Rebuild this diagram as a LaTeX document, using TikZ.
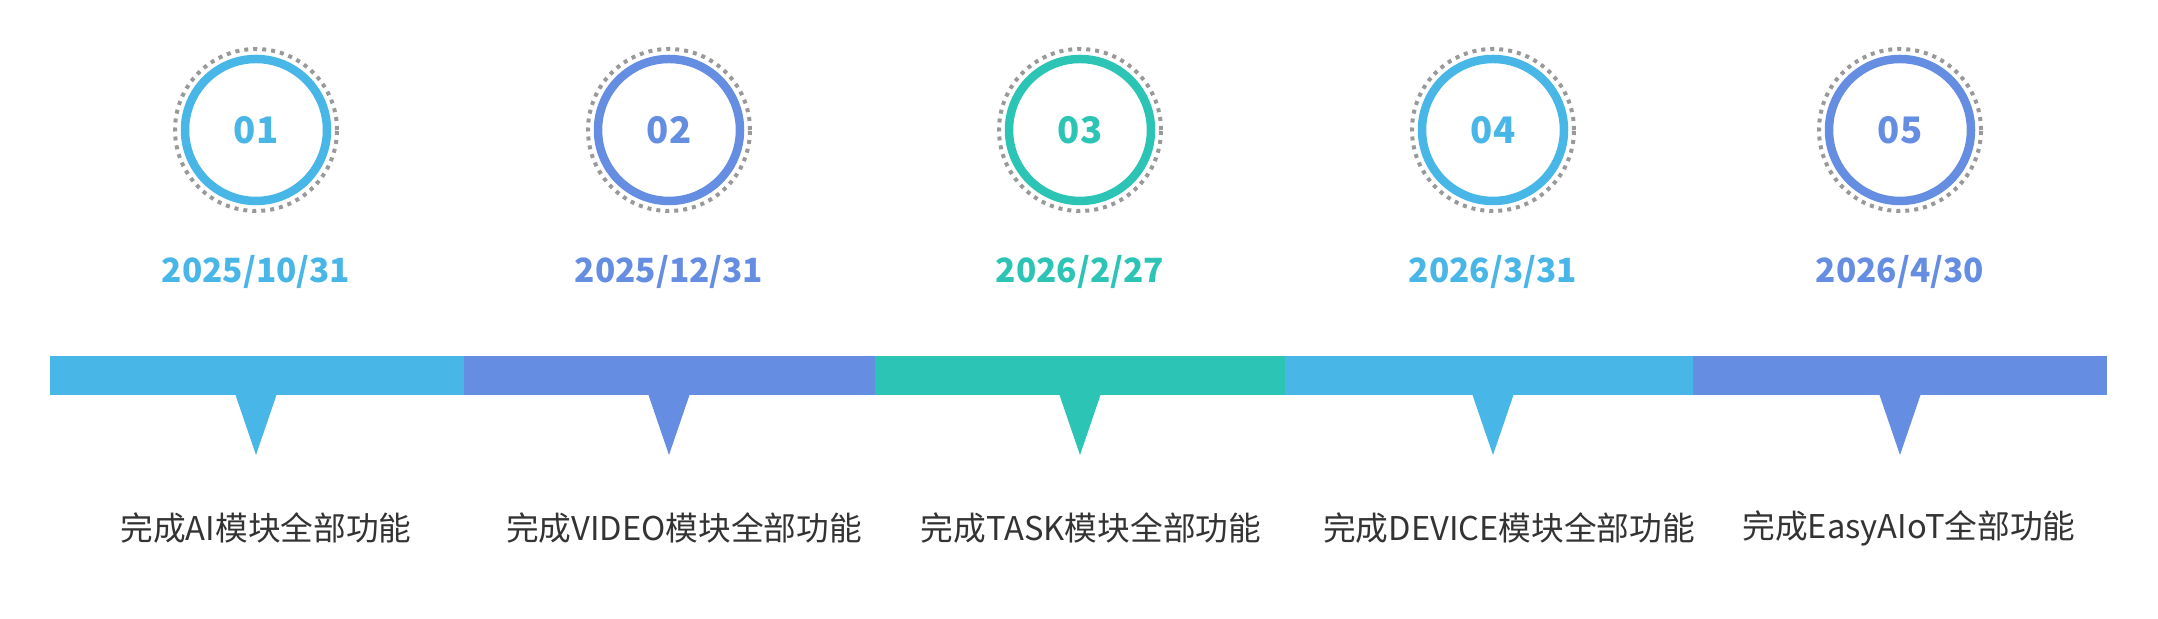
\documentclass[tikz,border=0pt]{standalone}
\usepackage{fontspec}
\usepackage{xcolor}
\usepackage{tikz}
\newfontfamily\cjk{Noto Sans CJK SC}
\definecolor{sky}{HTML}{48B6E6}
\definecolor{azure}{HTML}{658DE2}
\definecolor{mint}{HTML}{2CC4B4}
\definecolor{ink}{HTML}{333333}

\begin{document}
\begin{tikzpicture}[font=\cjk,
  ring/.style={circle, draw=#1, line width=0.085cm, minimum size=1.42cm,
               inner sep=0pt, text=#1, font=\cjk\bfseries\fontsize{10.4}{12}\selectfont},
  dots/.style={circle, draw=gray!80, line width=0.04cm, minimum size=1.62cm,
               inner sep=0pt, dash pattern=on 0.04cm off 0.05cm},
  date/.style={text=#1, font=\cjk\bfseries\fontsize{9.5}{12}\selectfont},
  seg/.style={fill=#1, minimum height=0.39cm, inner sep=0pt, outer sep=0pt},
  tip/.style={fill=#1},
  lbl/.style={text=ink, font=\cjk\fontsize{9.3}{12}\selectfont}]
\useasboundingbox (0,0) rectangle (21.58,-6.19);

% 顶部圆环:实线环 + 外圈点线
\node[ring=sky]   (c1) at (2.56, -1.30)  {01};
\node[ring=azure] (c2) at (6.69, -1.30)  {02};
\node[ring=mint]  (c3) at (10.80, -1.30) {03};
\node[ring=sky]   (c4) at (14.93, -1.30) {04};
\node[ring=azure] (c5) at (19.00, -1.30) {05};
\node[dots] (d1) at (c1) {};
\node[dots] (d2) at (c2) {};
\node[dots] (d3) at (c3) {};
\node[dots] (d4) at (c4) {};
\node[dots] (d5) at (c5) {};

% 日期
\node[date=sky]   (t1) at (2.56, -2.72)  {2025/10/31};
\node[date=azure] (t2) at (6.69, -2.72)  {2025/12/31};
\node[date=mint]  (t3) at (10.80, -2.72) {2026/2/27};
\node[date=sky]   (t4) at (14.93, -2.72) {2026/3/31};
\node[date=azure] (t5) at (19.00, -2.72) {2026/4/30};

% 时间轴色带,每段下方一个三角指针
\node[seg=sky,   minimum width=4.14cm] (b1) at (2.57, -3.755)  {};
\node[seg=azure, minimum width=4.11cm] (b2) at (6.695, -3.755) {};
\node[seg=mint,  minimum width=4.10cm] (b3) at (10.80, -3.755) {};
\node[seg=sky,   minimum width=4.08cm] (b4) at (14.89, -3.755) {};
\node[seg=azure, minimum width=4.14cm] (b5) at (19.00, -3.755) {};
\fill[tip=sky]   ([xshift=-0.205cm]b1.south-|c1) -- ([xshift=0.205cm]b1.south-|c1) -- ([yshift=-0.60cm]b1.south-|c1) -- cycle;
\fill[tip=azure] ([xshift=-0.205cm]b2.south-|c2) -- ([xshift=0.205cm]b2.south-|c2) -- ([yshift=-0.60cm]b2.south-|c2) -- cycle;
\fill[tip=mint]  ([xshift=-0.205cm]b3.south-|c3) -- ([xshift=0.205cm]b3.south-|c3) -- ([yshift=-0.60cm]b3.south-|c3) -- cycle;
\fill[tip=sky]   ([xshift=-0.205cm]b4.south-|c4) -- ([xshift=0.205cm]b4.south-|c4) -- ([yshift=-0.60cm]b4.south-|c4) -- cycle;
\fill[tip=azure] ([xshift=-0.205cm]b5.south-|c5) -- ([xshift=0.205cm]b5.south-|c5) -- ([yshift=-0.60cm]b5.south-|c5) -- cycle;

% 里程碑说明
\node[lbl] (m1) at (2.66, -5.28)  {完成AI模块全部功能};
\node[lbl] (m2) at (6.84, -5.28)  {完成VIDEO模块全部功能};
\node[lbl] (m3) at (10.91, -5.28) {完成TASK模块全部功能};
\node[lbl] (m4) at (15.09, -5.28) {完成DEVICE模块全部功能};
\node[lbl] (m5) at (19.09, -5.28) {完成EasyAIoT全部功能};
\end{tikzpicture}
\end{document}
